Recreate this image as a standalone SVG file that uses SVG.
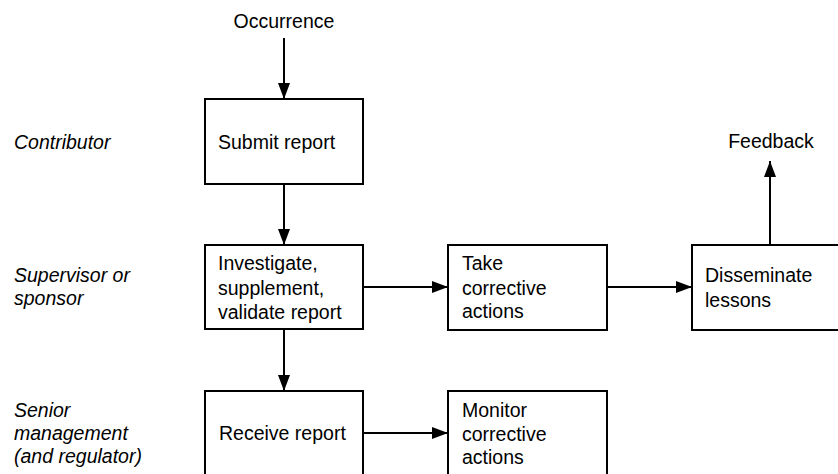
<svg xmlns="http://www.w3.org/2000/svg" width="838" height="474" viewBox="0 0 838 474">
<defs>
<marker id="ah" viewBox="0 0 16 12" refX="16" refY="6" markerWidth="16" markerHeight="12" markerUnits="userSpaceOnUse" orient="auto">
<path d="M0,0 L16,6 L0,12 Z" fill="#000"/>
</marker>
</defs>
<style>
.box{fill:#fff;stroke:#000;stroke-width:2}
.t{font-family:"Liberation Sans",Arial,sans-serif;font-size:19.5px;fill:#000}
.lane{font-family:"Liberation Sans",Arial,sans-serif;font-size:19.5px;font-style:italic;fill:#000}
.c{fill:none;stroke:#000;stroke-width:2;marker-end:url(#ah)}
</style>
<rect width="838" height="474" fill="#fff"/>
<g id="lanes">
<text class="lane" x="14" y="149">Contributor</text>
<text class="lane" x="14" y="282">Supervisor or</text>
<text class="lane" x="14" y="305">sponsor</text>
<text class="lane" x="14" y="417">Senior</text>
<text class="lane" x="14" y="440">management</text>
<text class="lane" x="14" y="463">(and regulator)</text>
</g>
<g id="occurrence"><text class="t" x="284" y="28" text-anchor="middle">Occurrence</text></g>
<g id="feedback"><text class="t" x="771" y="148" text-anchor="middle">Feedback</text></g>
<g id="submit">
<rect class="box" x="205" y="99" width="158" height="85"/>
<text class="t" x="218" y="149">Submit report</text>
</g>
<g id="investigate">
<rect class="box" x="205" y="245" width="158" height="84"/>
<text class="t" x="218" y="270">Investigate,</text>
<text class="t" x="218" y="295">supplement,</text>
<text class="t" x="218" y="319">validate report</text>
</g>
<g id="take">
<rect class="box" x="448" y="245" width="159" height="85"/>
<text class="t" x="462" y="270">Take</text>
<text class="t" x="462" y="295">corrective</text>
<text class="t" x="462" y="318">actions</text>
</g>
<g id="disseminate">
<rect class="box" x="692" y="245" width="160" height="85"/>
<text class="t" x="705" y="282">Disseminate</text>
<text class="t" x="705" y="307">lessons</text>
</g>
<g id="receive">
<rect class="box" x="205" y="391" width="158" height="90"/>
<text class="t" x="219" y="440">Receive report</text>
</g>
<g id="monitor">
<rect class="box" x="448" y="391" width="159" height="90"/>
<text class="t" x="462" y="417">Monitor</text>
<text class="t" x="462" y="441">corrective</text>
<text class="t" x="462" y="464">actions</text>
</g>
<g id="connectors">
<line class="c" x1="284" y1="38" x2="284" y2="99"/>
<line class="c" x1="284" y1="184" x2="284" y2="245"/>
<line class="c" x1="284" y1="329" x2="284" y2="391"/>
<line class="c" x1="363" y1="287" x2="448" y2="287"/>
<line class="c" x1="607" y1="287" x2="692" y2="287"/>
<line class="c" x1="770" y1="245" x2="770" y2="161"/>
<line class="c" x1="363" y1="433" x2="448" y2="433"/>
</g>
</svg>
